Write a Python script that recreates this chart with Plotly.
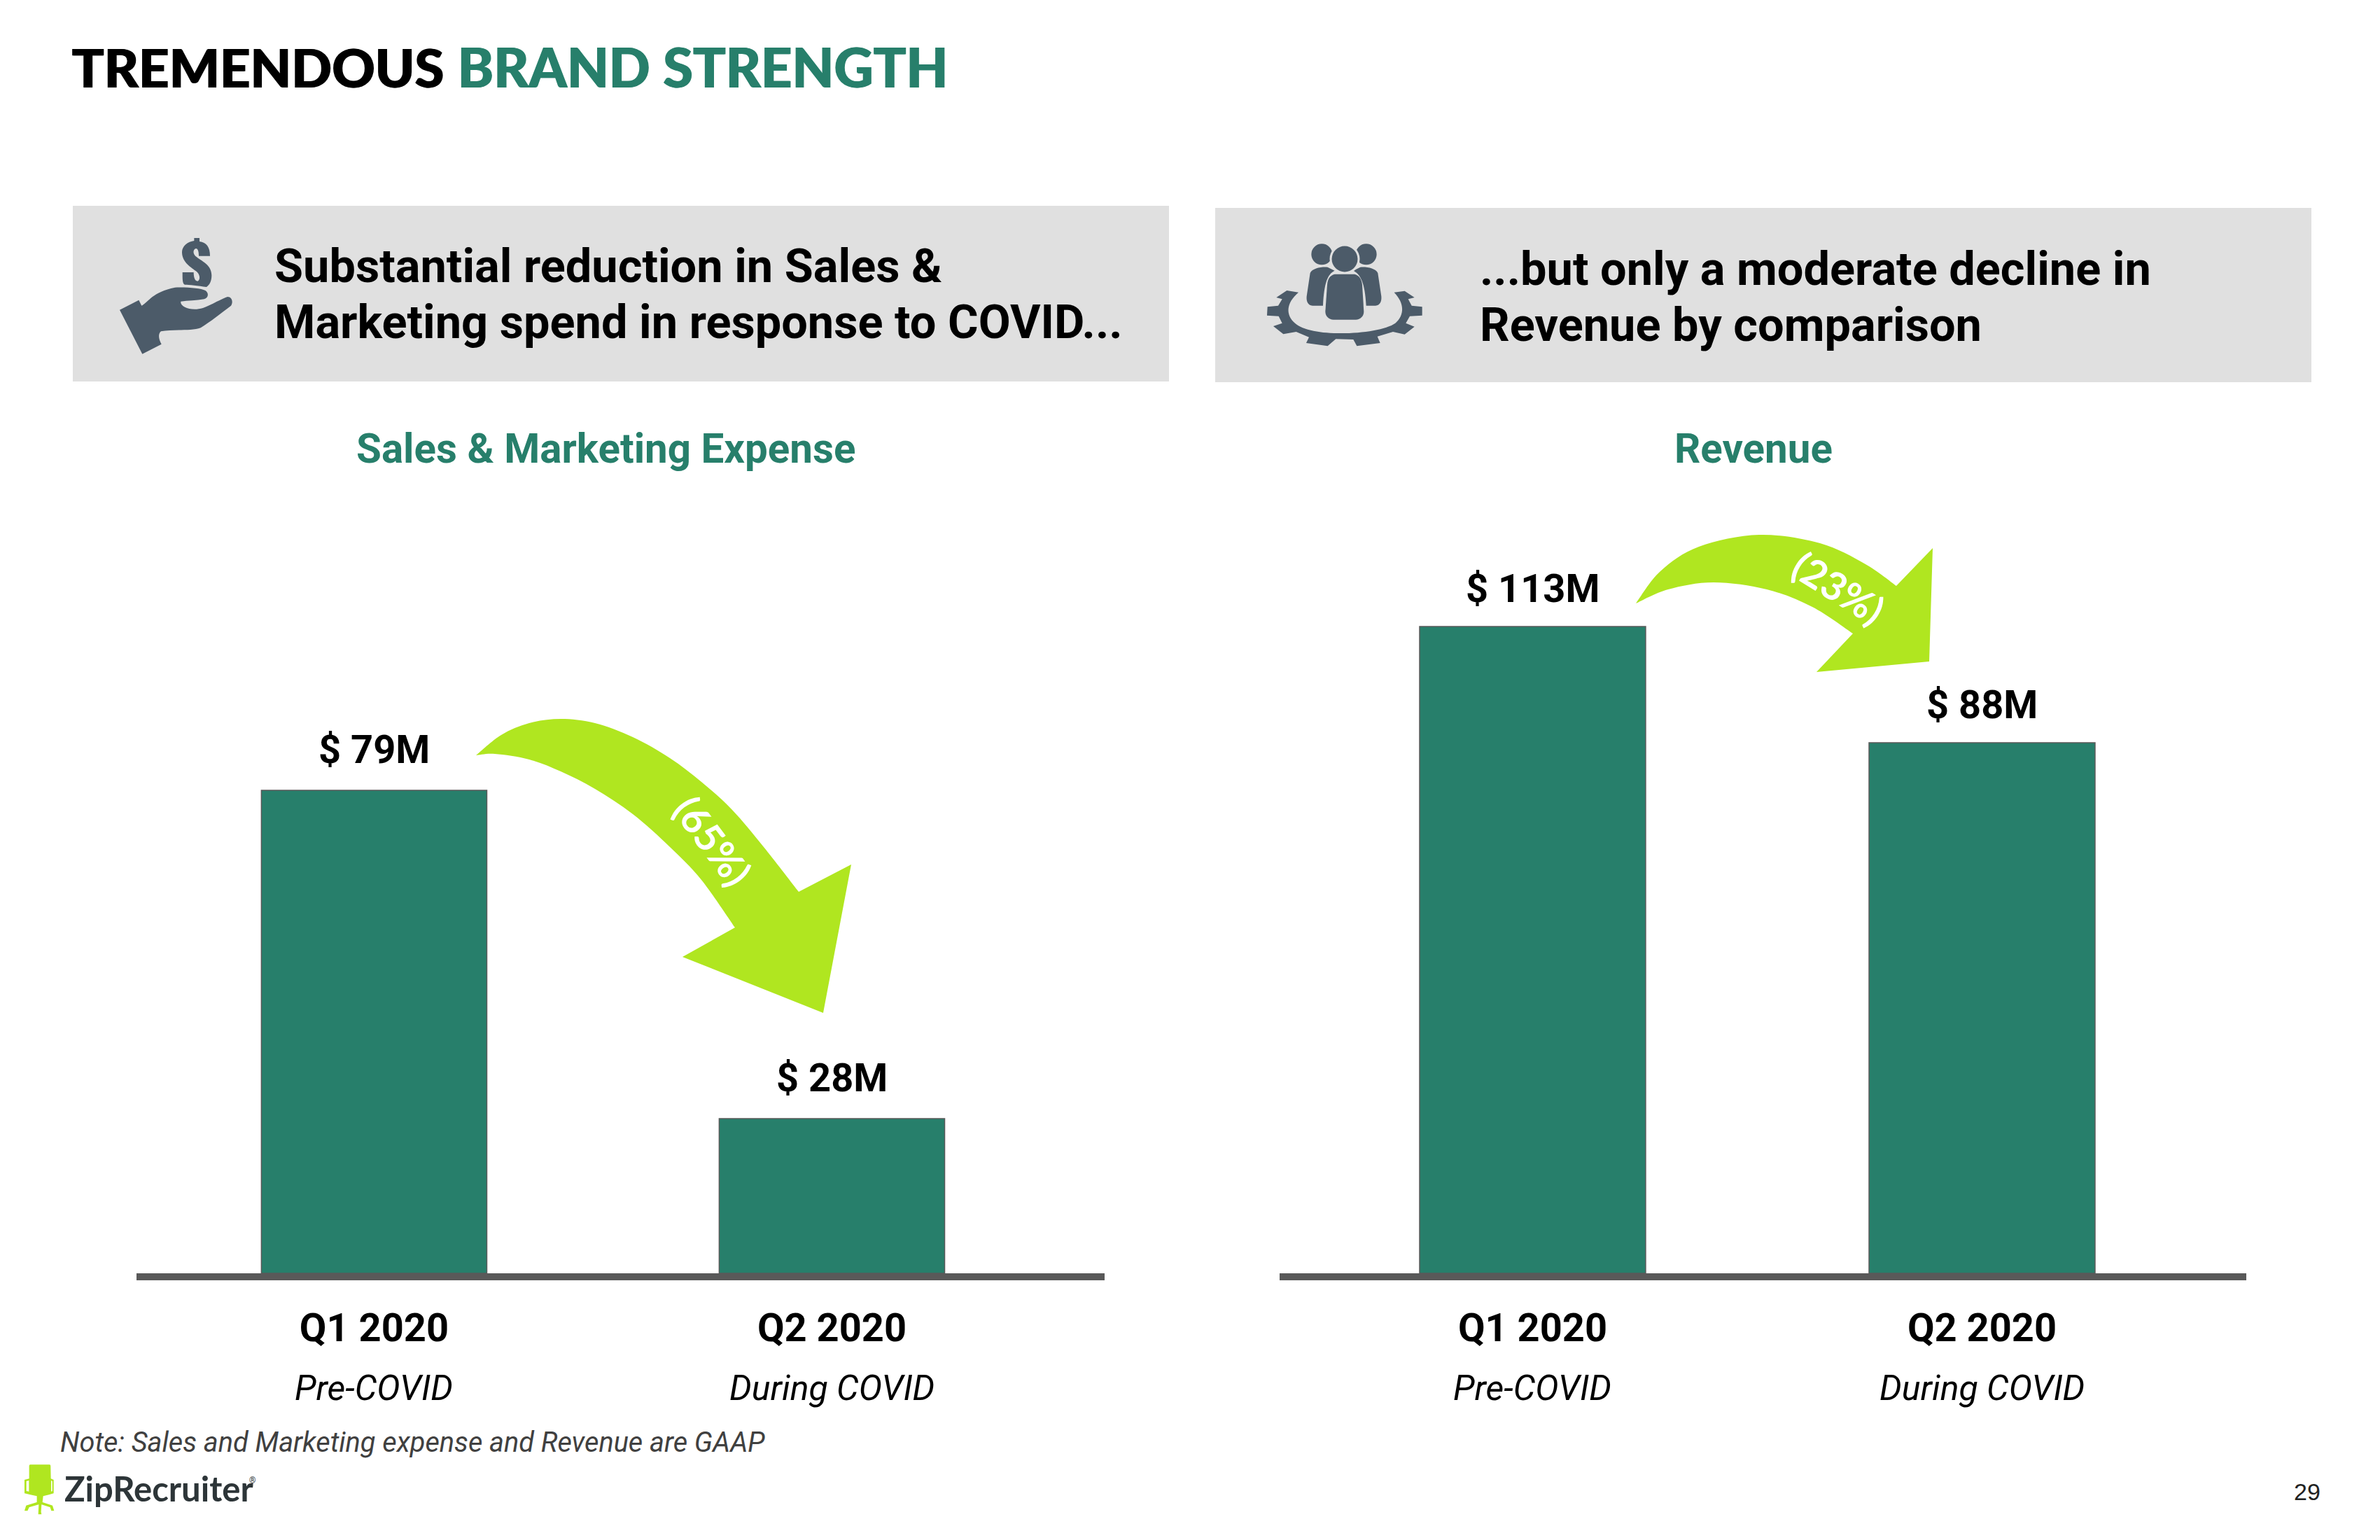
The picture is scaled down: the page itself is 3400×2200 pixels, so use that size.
import re
import plotly.graph_objects as go
from plotly.subplots import make_subplots

categories = ["Q1 2020", "Q2 2020"]
periods = ["Pre-COVID", "During COVID"]
sales_heights = [79, 25.3]
sales_labels = ["$ 79M", "$ 28M"]
revenue_heights = [113, 92.7]
revenue_labels = ["$ 113M", "$ 88M"]
sales_title = "Sales & Marketing Expense"
revenue_title = "Revenue"
sales_change = "(65%)"
revenue_change = "(23%)"

W, H = 3400, 2200
GREEN = "#277F6B"
LIME = "#B0E620"
SLATE = "#4C5B69"
GREY = "#E0E0E0"
AXIS = "#595959"
ROBOTO = "Roboto"


def fx(v):
    return v / W


def fy(v):
    return 1 - v / H


def path(d, ox=0.0, oy=0.0, sx=1.0, sy=1.0):
    """Turn an SVG path written in page pixels into paper coordinates."""
    def repl(m):
        x = ox + float(m.group(1)) / sx
        y = oy + float(m.group(2)) / sy
        return f"{fx(x):.5f},{fy(y):.5f}"
    return re.sub(r"(-?[\d.]+),(-?[\d.]+)", repl, d)


def smooth(points):
    """Catmull-Rom outline through traced points, as cubic path segments (no leading M)."""
    out = []
    n = len(points)
    for i in range(n - 1):
        p0 = points[max(i - 1, 0)]
        p1 = points[i]
        p2 = points[i + 1]
        p3 = points[min(i + 2, n - 1)]
        c1 = (p1[0] + (p2[0] - p0[0]) / 6, p1[1] + (p2[1] - p0[1]) / 6)
        c2 = (p2[0] - (p3[0] - p1[0]) / 6, p2[1] - (p3[1] - p1[1]) / 6)
        out.append(f"C{c1[0]:.1f},{c1[1]:.1f} {c2[0]:.1f},{c2[1]:.1f} {p2[0]},{p2[1]} ")
    return "".join(out)


fig = make_subplots(rows=1, cols=2)

fig.add_trace(go.Bar(x=categories, y=sales_heights, width=0.4925,
                     marker=dict(color=GREEN, line=dict(color=AXIS, width=1.5)),
                     showlegend=False, hoverinfo="skip"), row=1, col=1)
fig.add_trace(go.Bar(x=categories, y=revenue_heights, width=0.503,
                     marker=dict(color=GREEN, line=dict(color=AXIS, width=1.5)),
                     showlegend=False, hoverinfo="skip"), row=1, col=2)

BASE = 1819
L_SCALE = 690 / 79
R_SCALE = 924 / 113
L_MAX, R_MAX = 125, 140
axis_common = dict(type="category", showgrid=False, zeroline=False, showline=True,
                   linecolor=AXIS, linewidth=10, ticks="outside", ticklen=20,
                   tickcolor="rgba(0,0,0,0)",
                   tickfont=dict(family=ROBOTO, size=56, color="#000000", weight=700),
                   fixedrange=True)
fig.update_layout(
    width=W, height=H, margin=dict(l=0, r=0, t=0, b=0),
    paper_bgcolor="white", plot_bgcolor="white", showlegend=False,
    xaxis=dict(axis_common, domain=[fx(195), fx(1578)], range=[-0.519, 1.5956]),
    xaxis2=dict(axis_common, domain=[fx(1828), fx(3209)], range=[-0.563, 1.588]),
    yaxis=dict(visible=False, domain=[fy(BASE), fy(BASE - L_MAX * L_SCALE)], range=[0, L_MAX]),
    yaxis2=dict(visible=False, domain=[fy(BASE), fy(BASE - R_MAX * R_SCALE)], range=[0, R_MAX]),
)

ann = []


def text(t, x, y, size, color="#000000", weight=400, family=ROBOTO, anchor="center",
         italic=False, angle=0, shadow="none"):
    ann.append(dict(text=t, x=fx(x), y=fy(y), xref="paper", yref="paper", showarrow=False,
                    xanchor=anchor, yanchor="middle", textangle=angle,
                    font=dict(family=family, size=size, color=color, weight=weight,
                              style="italic" if italic else "normal", shadow=shadow)))


# Heading
text("TREMENDOUS", 100, 95, 76, weight=900, family="Lato", anchor="left",
     shadow="1.5px 0 0 #000000")
text("BRAND STRENGTH", 651, 95, 77.5, color=GREEN, weight=900, family="Lato", anchor="left",
     shadow="1.5px 0 0 " + GREEN)

# Banner text
text("Substantial reduction in Sales &", 390, 380, 66.7, weight=700, anchor="left")
text("Marketing spend in response to COVID...", 390, 460, 66.7, weight=700, anchor="left")
text("...but only a moderate decline in", 2112, 384, 66.7, weight=700, anchor="left")
text("Revenue by comparison", 2112, 464, 66.7, weight=700, anchor="left")

# Chart titles
text(sales_title, 865, 641, 58.3, color=GREEN, weight=700)
text(revenue_title, 2505, 641, 58.3, color=GREEN, weight=700)

# Value labels tied to the bars, period labels tied to the categories
for xr, yr, heights, labels, lift in (("x", "y", sales_heights, sales_labels, 58),
                                      ("x2", "y2", revenue_heights, revenue_labels, 54)):
    for c, h, l, p in zip(categories, heights, labels, periods):
        ann.append(dict(text=l, x=c, y=h, xref=xr, yref=yr, showarrow=False, yshift=lift,
                        xanchor="center", yanchor="middle",
                        font=dict(family=ROBOTO, size=56, color="#000000", weight=700)))
        ann.append(dict(text=p, x=c, y=fy(1983), xref=xr, yref="paper", showarrow=False,
                        xanchor="center", yanchor="middle",
                        font=dict(family=ROBOTO, size=50, color="#000000", style="italic")))

# Arrow labels
text(sales_change, 1019, 1201, 56, color="white", weight=700, family="Lato", angle=53)
text(revenue_change, 2627, 839, 56, color="white", weight=700, family="Lato", angle=32)

# Footer
text("Note: Sales and Marketing expense and Revenue are GAAP", 84, 2060, 39.7, color="#404040",
     anchor="left", italic=True)
text("ZipRecruiter", 90, 2126, 49, color="#2D3538", weight=700, family="Lato", anchor="left")
text("®", 360, 2115, 12, color="#2D3538")
text("29", 3296, 2131, 34, color="#222222", family="Liberation Sans")

shapes = []


def box(x0, y0, x1, y1, color):
    shapes.append(dict(type="rect", xref="paper", yref="paper", x0=fx(x0), x1=fx(x1),
                       y0=fy(y0), y1=fy(y1), fillcolor=color, line=dict(width=0),
                       layer="below"))


def blob(d, color, **kw):
    shapes.append(dict(type="path", xref="paper", yref="paper", path=path(d, **kw),
                       fillcolor=color, line=dict(width=0), layer="above"))


def disc(cx, cy, r, color):
    shapes.append(dict(type="circle", xref="paper", yref="paper",
                       x0=fx(cx - r), x1=fx(cx + r), y0=fy(cy + r), y1=fy(cy - r),
                       fillcolor=color, line=dict(width=0), layer="above"))


box(104, 294, 1670, 545, GREY)
box(1736, 297, 3302, 546, GREY)

# Curved arrows
left_outer = [(680, 1079), (716, 1050), (756, 1033), (801, 1027), (850, 1033), (904, 1053),
              (957, 1083), (1002, 1117), (1046, 1157), (1091, 1210), (1141, 1274)]
left_inner = [(1050, 1325), (1002, 1257), (957, 1210), (904, 1163), (850, 1127), (801, 1102),
              (756, 1085), (707, 1077), (680, 1079)]
blob("M680,1079 " + smooth(left_outer) + "L1216,1235 L1176,1447 L975,1367 L1050,1325 "
     + smooth(left_inner) + "Z", LIME)
right_outer = [(2337, 862), (2372, 816), (2427, 781), (2513, 764), (2600, 776), (2665, 806),
               (2709, 837)]
right_inner = [(2647, 905), (2589, 867), (2524, 842), (2448, 832), (2383, 842), (2337, 862)]
blob("M2337,862 " + smooth(right_outer) + "L2761,783 L2756,945 L2595,960 L2647,905 "
     + smooth(right_inner) + "Z", LIME)

# Hand icon with dollar sign
icon_a = dict(ox=140, oy=310, sx=3, sy=3)
blob("M93,398 L175,356 L187,380 C215,365 235,320 330,302 C380,300 440,305 460,315 "
     "C475,325 475,345 455,352 C420,358 385,358 355,362 C350,385 400,405 450,390 "
     "C490,375 530,350 555,342 C575,342 580,365 570,380 C530,410 480,450 440,475 "
     "C400,490 320,480 270,490 C258,500 258,520 272,545 L190,587 Z", SLATE, **icon_a)
blob("M412,90 L435,90 L435,105 C465,108 480,130 480,167 L432,167 C432,148 428,135 420,135 "
     "C408,137 405,155 418,168 C445,190 487,205 487,250 C487,275 478,292 465,300 "
     "C430,295 390,290 372,290 C362,285 362,270 362,237 L410,237 C410,255 414,275 427,275 "
     "C440,270 438,245 420,232 C390,210 360,190 360,150 C360,125 385,105 412,102 Z",
     SLATE, **icon_a)

# People and gear icon
icon_b = dict(ox=1790, oy=320, sx=3, sy=3)
blob("M195,293 L145,285 L100,315 L125,322 L108,350 L62,355 L60,392 L110,395 L125,425 "
     "L87,438 L130,472 L185,462 L240,485 L228,510 L320,523 L355,493 L430,495 L445,523 "
     "L545,510 L533,482 L600,462 L650,473 L692,440 L655,425 L672,395 L725,392 L725,355 "
     "L680,350 L665,322 L692,315 L650,287 L605,293 C650,340 650,390 610,425 "
     "C540,475 250,490 180,425 C140,390 140,340 195,293 Z", SLATE, **icon_b)
disc(1790 + 295 / 3, 320 + 130 / 3, 15, SLATE)
disc(1790 + 485 / 3, 320 + 130 / 3, 15, SLATE)
blob("M245,210 C255,190 290,183 320,185 L350,200 C320,215 305,250 300,350 L255,350 "
     "C235,350 228,330 230,310 Z", SLATE, **icon_b)
blob("M535,210 C525,190 490,183 460,185 L430,200 C460,215 480,250 485,350 L525,350 "
     "C545,350 552,330 550,310 Z", SLATE, **icon_b)
disc(1790 + 393 / 3, 320 + 150 / 3, 21.5, GREY)
disc(1790 + 393 / 3, 320 + 150 / 3, 18.5, SLATE)
blob("M350,215 L435,215 C455,220 465,235 468,260 L475,375 C475,395 460,410 440,410 "
     "L345,410 C325,410 310,395 310,375 L318,260 C320,235 330,220 350,215 Z", SLATE, **icon_b)

# Chair logo
icon_c = dict(ox=20, oy=2080, sx=3, sy=3)
blob("M70,37 L152,37 C156,37 157,40 157,45 L158,97 L170,102 L170,160 L150,166 L125,172 "
     "L122,198 L165,212 L172,235 L160,235 L155,220 L118,208 L116,240 L118,250 L104,250 "
     "L106,208 L65,220 L58,235 L45,235 L52,212 L98,198 L98,172 L70,166 L45,160 L45,102 "
     "L65,97 L65,45 C65,40 66,37 70,37 Z", LIME, **icon_c)
blob("M53,108 L64,105 L64,152 L53,150 Z", "white", **icon_c)
blob("M159,105 L164,108 L164,150 L159,152 Z", "white", **icon_c)

fig.update_layout(annotations=ann, shapes=shapes)
fig.write_html("out.html", config={"displayModeBar": False},
               post_script="document.body.style.margin='0';")
